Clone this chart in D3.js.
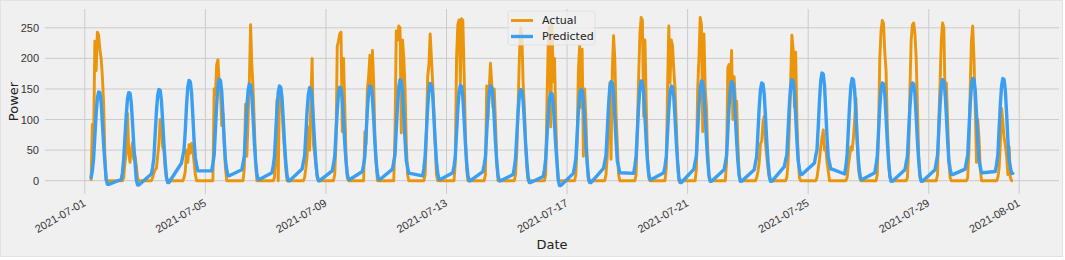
<!DOCTYPE html>
<html>
<head>
<meta charset="utf-8">
<script src="https://cdn.jsdelivr.net/npm/d3@7"></script>
<style>
  body { margin: 0; background: #ffffff; }
  svg { display: block; font-family: "DejaVu Sans", sans-serif; }
</style>
</head>
<body>
<svg id="chart" width="1065" height="260"></svg>
<script>
// hours of the day that have rows (same for every day)
var hours = [5, 6, 7, 8, 9, 10, 11, 12, 13, 14, 15, 16, 17, 18, 19];

// actual power, one row per day (2021-07-01 .. 2021-07-31), one value per hour above
var actualByDay = [
  [0, 92, 65, 228, 180, 243, 238, 215, 200, 170, 125, 40, 0, 0, 0],
  [0, 0, 5, 30, 50, 110, 45, 30, 50, 62, 35, 40, 25, 5, 0],
  [0, 5, 12, 18, 20, 40, 60, 100, 95, 55, 50, 20, 5, 0, 0],
  [0, 0, 5, 15, 50, 30, 59, 45, 61, 50, 30, 10, 0, 0, 0],
  [0, 0, 150, 140, 190, 198, 160, 150, 90, 110, 60, 20, 0, 0, 0],
  [0, 0, 20, 125, 40, 100, 160, 255, 190, 150, 90, 30, 0, 0, 0],
  [0, 0, 5, 45, 132, 0, 150, 145, 120, 80, 50, 20, 0, 0, 0],
  [0, 0, 5, 20, 40, 88, 50, 130, 200, 60, 45, 25, 5, 0, 0],
  [0, 0, 10, 60, 220, 228, 240, 243, 80, 200, 120, 40, 5, 0, 0],
  [0, 0, 80, 60, 150, 170, 205, 150, 213, 160, 70, 30, 0, 0, 0],
  [0, 0, 80, 245, 230, 253, 250, 78, 230, 200, 150, 60, 10, 0, 0],
  [0, 0, 10, 80, 170, 190, 240, 200, 160, 110, 60, 10, 0, 0, 0],
  [0, 0, 30, 200, 255, 263, 160, 265, 262, 180, 80, 20, 0, 0, 0],
  [0, 0, 10, 155, 100, 150, 192, 160, 120, 150, 95, 30, 0, 0, 0],
  [0, 0, 10, 50, 120, 200, 250, 240, 160, 120, 60, 20, 0, 0, 0],
  [0, 0, 10, 130, 225, 252, 88, 258, 162, 200, 100, 30, 0, 0, 0],
  [0, 0, 10, 60, 180, 220, 120, 215, 40, 150, 100, 30, 0, 0, 0],
  [0, 0, 10, 40, 100, 160, 35, 180, 237, 200, 110, 60, 10, 0, 0],
  [0, 0, 10, 90, 170, 240, 267, 262, 105, 230, 130, 40, 5, 0, 0],
  [0, 0, 20, 150, 253, 160, 230, 220, 180, 150, 90, 30, 0, 0, 0],
  [0, 0, 20, 150, 200, 267, 255, 80, 240, 150, 120, 50, 5, 0, 0],
  [0, 0, 30, 185, 190, 150, 213, 100, 170, 130, 130, 60, 10, 0, 0],
  [0, 0, 5, 15, 30, 60, 65, 95, 105, 60, 40, 20, 5, 0, 0],
  [0, 0, 5, 30, 90, 160, 238, 215, 120, 210, 100, 40, 5, 0, 0],
  [0, 0, 5, 20, 35, 55, 70, 83, 50, 55, 30, 15, 0, 0, 0],
  [0, 0, 5, 25, 40, 55, 50, 70, 100, 135, 60, 20, 5, 0, 0],
  [0, 0, 10, 80, 200, 245, 262, 257, 210, 180, 90, 30, 5, 0, 0],
  [0, 0, 5, 50, 150, 230, 255, 258, 240, 200, 120, 40, 5, 0, 0],
  [0, 0, 10, 100, 160, 230, 258, 250, 140, 160, 100, 30, 5, 0, 0],
  [0, 0, 5, 50, 150, 230, 253, 200, 120, 30, 100, 70, 20, 0, 0],
  [0, 0, 5, 20, 60, 118, 96, 70, 58, 40, 10, 55, 5, 0, 0]
];

// predicted power, same layout
var predictedByDay = [
  [5, 16, 36, 73, 109, 135, 145, 144, 128, 94, 58, 29, 3, -6, -6],
  [2, 13, 36, 72, 108, 134, 144, 143, 127, 94, 58, 29, 2, -7, -7],
  [11, 22, 37, 75, 112, 139, 149, 148, 131, 97, 60, 30, 6, -3, -3],
  [29, 40, 50, 82, 123, 153, 164, 162, 144, 107, 66, 38, 26, 16, 16],
  [16, 28, 42, 83, 125, 154, 166, 164, 146, 108, 66, 33, 18, 8, 8],
  [18, 29, 40, 79, 119, 147, 158, 156, 139, 103, 63, 32, 11, 2, 2],
  [13, 24, 39, 78, 116, 144, 155, 153, 136, 101, 62, 31, 9, 0, 0],
  [19, 30, 40, 76, 114, 141, 152, 150, 134, 99, 61, 30, 9, 0, 0],
  [16, 27, 40, 77, 115, 142, 153, 151, 135, 99, 61, 31, 11, 2, 2],
  [15, 26, 40, 78, 116, 144, 155, 153, 136, 101, 62, 31, 11, 2, 2],
  [19, 31, 42, 83, 124, 153, 165, 163, 145, 107, 66, 33, 22, 12, 12],
  [8, 20, 40, 80, 119, 148, 159, 157, 140, 103, 64, 32, 12, 2, 2],
  [13, 24, 39, 78, 117, 145, 156, 154, 137, 101, 62, 31, 9, 0, 0],
  [15, 26, 39, 78, 116, 144, 155, 153, 136, 101, 62, 31, 9, 0, 0],
  [10, 21, 37, 75, 112, 139, 149, 148, 131, 97, 60, 30, 6, -3, -3],
  [7, 18, 36, 72, 107, 133, 143, 142, 126, 93, 57, 29, 1, -8, -8],
  [12, 23, 37, 75, 112, 139, 149, 148, 131, 97, 60, 30, 6, -3, -3],
  [20, 31, 41, 81, 122, 151, 162, 160, 143, 105, 65, 32, 23, 13, 13],
  [12, 24, 41, 82, 122, 152, 163, 161, 143, 106, 65, 33, 12, 2, 2],
  [13, 24, 39, 78, 116, 144, 155, 153, 136, 101, 62, 31, 6, -3, -3],
  [19, 31, 41, 82, 122, 152, 163, 161, 143, 106, 65, 33, 9, -1, -1],
  [18, 29, 41, 81, 122, 151, 162, 160, 143, 105, 65, 32, 9, -1, -1],
  [18, 29, 40, 80, 120, 149, 160, 158, 141, 104, 64, 32, 9, -1, -1],
  [23, 34, 42, 83, 124, 153, 165, 163, 145, 107, 66, 33, 20, 10, 10],
  [29, 41, 50, 88, 132, 164, 176, 174, 155, 114, 70, 38, 29, 19, 19],
  [11, 23, 42, 84, 125, 155, 167, 165, 147, 109, 67, 33, 12, 2, 2],
  [13, 25, 40, 80, 120, 149, 160, 158, 141, 104, 64, 32, 9, -1, -1],
  [18, 29, 40, 80, 120, 149, 160, 158, 141, 104, 64, 32, 9, -1, -1],
  [18, 30, 42, 83, 124, 153, 165, 163, 145, 107, 66, 33, 20, 10, 10],
  [19, 31, 42, 84, 125, 155, 167, 165, 147, 109, 67, 33, 23, 13, 13],
  [15, 27, 42, 84, 125, 155, 167, 165, 147, 109, 67, 33, 22, 12, 12]
];

var xTickLabels = ['2021-07-01', '2021-07-05', '2021-07-09', '2021-07-13', '2021-07-17',
                   '2021-07-21', '2021-07-25', '2021-07-29', '2021-08-01'];
var yTicks = [0, 50, 100, 150, 200, 250];
var seriesNames = ['Actual', 'Predicted'];

(function(d3) {
  'use strict';

  var W = 1065, H = 260;
  var left = 45, right = 1059, top = 9, bottom = 194;
  var colors = { Actual: '#ea950b', Predicted: '#3a9ef2' };

  // build rows: one per (day, hour)
  var rows = [];
  actualByDay.forEach(function(dayVals, i) {
    hours.forEach(function(h, j) {
      rows.push({
        t: new Date(2021, 6, i + 1, h),
        actual: dayVals[j],
        predicted: predictedByDay[i][j]
      });
    });
  });

  // matplotlib-ish 5% margins
  var tExt = d3.extent(rows, function(d) { return d.t; });
  var tPad = (tExt[1] - tExt[0]) * 0.05;
  var vMin = d3.min(rows, function(d) { return Math.min(d.actual, d.predicted); });
  var vMax = d3.max(rows, function(d) { return Math.max(d.actual, d.predicted); });
  var vPad = (vMax - vMin) * 0.05;

  var x = d3.scaleTime()
    .domain([new Date(+tExt[0] - tPad), new Date(+tExt[1] + tPad)])
    .range([left, right]);
  var y = d3.scaleLinear()
    .domain([vMin - vPad, vMax + vPad])
    .range([bottom, top]);

  var parse = d3.timeParse('%Y-%m-%d');
  var xTicks = xTickLabels.map(parse);

  var svg = d3.select('#chart');

  svg.append('rect')
    .attr('x', 0.5).attr('y', 0.5)
    .attr('width', W - 3).attr('height', H - 4)
    .attr('fill', '#f0f0f0')
    .attr('stroke', '#e2e2e2');

  // grid
  svg.append('g').selectAll('line')
    .data(yTicks).enter().append('line')
    .attr('x1', left).attr('x2', right)
    .attr('y1', function(d) { return y(d); })
    .attr('y2', function(d) { return y(d); })
    .attr('stroke', '#cbcbcb').attr('stroke-width', 1);

  svg.append('g').selectAll('line')
    .data(xTicks).enter().append('line')
    .attr('x1', function(d) { return x(d); })
    .attr('x2', function(d) { return x(d); })
    .attr('y1', top).attr('y2', bottom)
    .attr('stroke', '#cbcbcb').attr('stroke-width', 1);

  // y axis labels
  var yAxis = d3.axisLeft(y).tickValues(yTicks).tickSize(0).tickPadding(5);
  var gy = svg.append('g').attr('transform', 'translate(' + (left - 1) + ',0)').call(yAxis);
  gy.select('.domain').remove();
  gy.selectAll('text')
    .attr('fill', '#333')
    .style('font-size', '11px');

  // x axis labels, rotated like autofmt_xdate
  var xAxis = d3.axisBottom(x).tickValues(xTicks).tickSize(0)
    .tickFormat(d3.timeFormat('%Y-%m-%d'));
  var gx = svg.append('g').attr('transform', 'translate(0,' + bottom + ')').call(xAxis);
  gx.select('.domain').remove();
  gx.selectAll('text')
    .attr('fill', '#333')
    .style('font-size', '11px')
    .attr('text-anchor', 'end')
    .attr('y', 0).attr('dy', '0.75em')
    .attr('transform', 'translate(-3,4) rotate(-30)');

  // series
  var lineActual = d3.line()
    .x(function(d) { return x(d.t); })
    .y(function(d) { return y(d.actual); });
  var linePred = d3.line()
    .x(function(d) { return x(d.t); })
    .y(function(d) { return y(d.predicted); });

  svg.append('path')
    .datum(rows)
    .attr('d', lineActual)
    .attr('fill', 'none')
    .attr('stroke', colors.Actual)
    .attr('stroke-width', 2.9)
    .attr('stroke-linejoin', 'round');

  svg.append('path')
    .datum(rows)
    .attr('d', linePred)
    .attr('fill', 'none')
    .attr('stroke', colors.Predicted)
    .attr('stroke-width', 3.4)
    .attr('stroke-linejoin', 'round')
    .attr('stroke-linecap', 'round');

  // axis titles
  svg.append('text')
    .attr('transform', 'translate(14,' + ((top + bottom) / 2) + ') rotate(-90)')
    .attr('text-anchor', 'middle')
    .attr('dominant-baseline', 'middle')
    .attr('fill', '#222')
    .style('font-size', '13px')
    .text('Power');

  svg.append('text')
    .attr('x', (left + right) / 2)
    .attr('y', 245)
    .attr('text-anchor', 'middle')
    .attr('dominant-baseline', 'middle')
    .attr('fill', '#222')
    .style('font-size', '13px')
    .text('Date');

  // legend, upper center
  var lg = svg.append('g').attr('transform', 'translate(508,11)');
  lg.append('rect')
    .attr('width', 87).attr('height', 34)
    .attr('rx', 3)
    .attr('fill', '#f0f0f0').attr('fill-opacity', 0.8)
    .attr('stroke', '#dcdcdc').attr('stroke-opacity', 0.8);
  seriesNames.forEach(function(name, i) {
    var yy = 9.5 + i * 16;
    lg.append('line')
      .attr('x1', 3).attr('x2', 25)
      .attr('y1', yy).attr('y2', yy)
      .attr('stroke', colors[name])
      .attr('stroke-width', name === 'Actual' ? 2.9 : 3.4);
    lg.append('text')
      .attr('x', 34).attr('y', yy)
      .attr('dominant-baseline', 'middle')
      .attr('fill', '#222')
      .style('font-size', '11px')
      .text(name);
  });
})(window.d3);
</script>
</body>
</html>
